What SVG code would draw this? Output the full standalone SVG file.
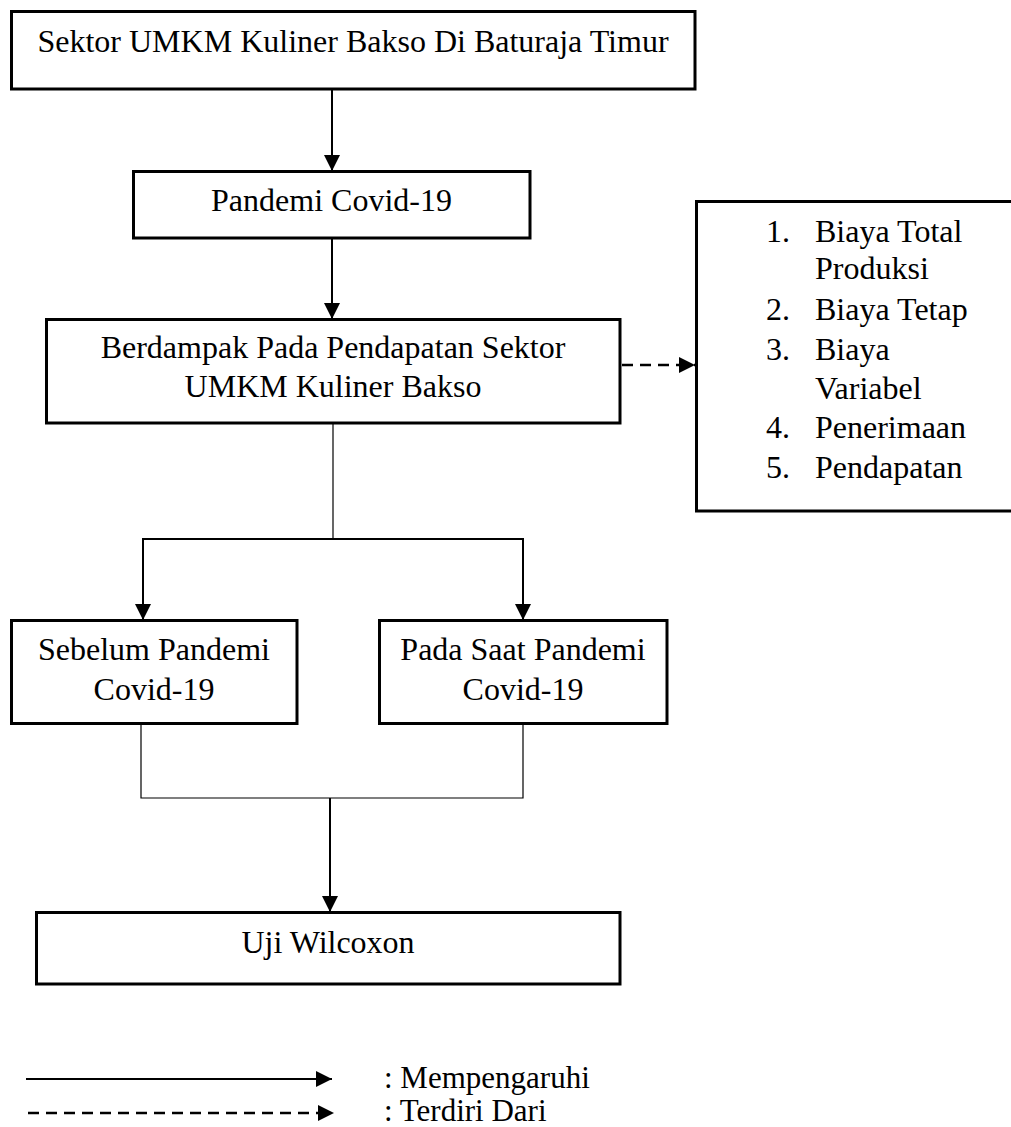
<svg xmlns="http://www.w3.org/2000/svg" width="1011" height="1127" viewBox="0 0 1011 1127">
<style>
.box{fill:#fff;stroke:#000;stroke-width:3}
.t{font-family:'Liberation Serif','DejaVu Serif',serif;font-size:32px;fill:#000}
.c{text-anchor:middle}
.thick{stroke:#000;stroke-width:2;fill:none}
.thin{stroke:#000;stroke-width:1.2;fill:none}
.dash{stroke:#000;stroke-width:2.5;fill:none;stroke-dasharray:11 7}
</style>
<defs>
<marker id="ah" markerUnits="userSpaceOnUse" markerWidth="16" markerHeight="16" viewBox="0 0 16 16" refX="16" refY="8" orient="auto">
<path d="M0,0 L16,8 L0,16 Z" fill="#000"/>
</marker>
</defs>
<rect width="1011" height="1127" fill="#fff"/>
<g id="connectors">
<line class="thick" x1="332" y1="89" x2="332" y2="171" marker-end="url(#ah)"/>
<line class="thick" x1="332" y1="238" x2="332" y2="319" marker-end="url(#ah)"/>
<line class="dash" x1="622" y1="365" x2="695" y2="365" marker-end="url(#ah)"/>
<line class="thin" x1="333" y1="423" x2="333" y2="539"/>
<line class="thick" x1="142" y1="539" x2="524" y2="539"/>
<line class="thick" x1="143" y1="539" x2="143" y2="620" marker-end="url(#ah)"/>
<line class="thick" x1="523" y1="539" x2="523" y2="620" marker-end="url(#ah)"/>
<polyline class="thin" points="141,724 141,798 523,798 523,724"/>
<line class="thick" x1="330" y1="798" x2="330" y2="912" marker-end="url(#ah)"/>
</g>
<g id="n1"><rect class="box" x="11.5" y="11.5" width="683.5" height="77.5"/><text class="t c" x="353" y="52" font-family="Liberation Serif, DejaVu Serif, serif">Sektor UMKM Kuliner Bakso Di Baturaja Timur</text></g>
<g id="n2"><rect class="box" x="133.5" y="171.5" width="396.5" height="66.5"/><text class="t c" x="331.5" y="211">Pandemi Covid-19</text></g>
<g id="n3"><rect class="box" x="46.5" y="319.5" width="573.5" height="103.5"/><text class="t c" x="333" y="358">Berdampak Pada Pendapatan Sektor</text><text class="t c" x="333" y="397">UMKM Kuliner Bakso</text></g>
<g id="n4"><rect class="box" x="696.5" y="201.5" width="316" height="309.5"/>
<text class="t" x="766" y="242">1.</text><text class="t" x="815" y="242">Biaya Total</text>
<text class="t" x="815" y="279">Produksi</text>
<text class="t" x="766" y="320">2.</text><text class="t" x="815" y="320">Biaya Tetap</text>
<text class="t" x="766" y="360">3.</text><text class="t" x="815" y="360">Biaya</text>
<text class="t" x="815" y="399">Variabel</text>
<text class="t" x="766" y="438">4.</text><text class="t" x="815" y="438">Penerimaan</text>
<text class="t" x="766" y="478">5.</text><text class="t" x="815" y="478">Pendapatan</text>
</g>
<g id="n5"><rect class="box" x="11.5" y="620.5" width="285.5" height="103"/><text class="t c" x="154" y="660">Sebelum Pandemi</text><text class="t c" x="154" y="700">Covid-19</text></g>
<g id="n6"><rect class="box" x="379.5" y="620.5" width="287.5" height="103"/><text class="t c" x="523" y="660">Pada Saat Pandemi</text><text class="t c" x="523" y="700">Covid-19</text></g>
<g id="n7"><rect class="box" x="36.5" y="912.5" width="583.5" height="71.5"/><text class="t c" x="328" y="953">Uji Wilcoxon</text></g>
<g id="legend">
<line class="thick" x1="26" y1="1079" x2="332" y2="1079" marker-end="url(#ah)"/>
<line class="dash" x1="28" y1="1113" x2="334" y2="1113" marker-end="url(#ah)"/>
<text class="t" x="384" y="1088" style="font-size:31px">: Mempengaruhi</text>
<text class="t" x="384" y="1121" style="font-size:31px">: Terdiri Dari</text>
</g>
</svg>
